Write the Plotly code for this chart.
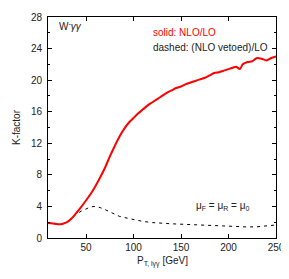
import plotly.graph_objects as go

# Solid: NLO/LO
pt_solid = [10, 15, 20, 25, 30, 35, 40, 45, 50, 55, 60, 65, 70, 75, 80, 85, 90, 95, 100,
            105, 110, 115, 120, 125, 130, 135, 140, 145, 150, 155, 160, 165, 170, 175,
            180, 185, 190, 195, 200, 205, 208, 212, 215, 220, 225, 230, 235, 240, 245, 250]
k_solid = [1.9, 1.85, 1.75, 1.78, 2.0, 2.5, 3.2, 3.95, 4.75, 5.6, 6.6, 7.7, 8.9, 10.3, 11.6,
           12.8, 13.8, 14.6, 15.2, 15.8, 16.3, 16.8, 17.2, 17.6, 18.0, 18.4, 18.7, 19.0,
           19.2, 19.5, 19.7, 19.9, 20.1, 20.3, 20.6, 20.9, 21.0, 21.2, 21.4, 21.6, 21.7,
           21.4, 22.0, 22.3, 22.4, 22.8, 22.7, 22.5, 22.8, 23.0]

# Dashed: (NLO vetoed)/LO
pt_dashed = [10, 20, 25, 30, 35, 40, 45, 50, 55, 60, 65, 70, 75, 80, 85, 90, 95, 100,
             110, 120, 130, 140, 150, 160, 170, 180, 190, 200, 210, 220, 230, 240, 250]
k_dashed = [1.9, 1.75, 1.8, 2.0, 2.5, 3.05, 3.4, 3.7, 3.95, 4.0, 3.85, 3.6, 3.3, 3.0, 2.75,
            2.6, 2.45, 2.35, 2.1, 1.95, 1.85, 1.8, 1.75, 1.7, 1.62, 1.55, 1.5, 1.45, 1.42,
            1.4, 1.42, 1.5, 1.65]

x_ticks = [50, 100, 150, 200, 250]
y_ticks = [0, 4, 8, 12, 16, 20, 24, 28]

FONT = "Liberation Sans, Arial, sans-serif"
TXT = "#222222"

fig = go.Figure()
fig.add_trace(go.Scatter(x=pt_dashed, y=k_dashed, mode="lines",
                         line=dict(color="black", width=1, dash="3px,4px"),
                         showlegend=False))
fig.add_trace(go.Scatter(x=pt_solid, y=k_solid, mode="lines", line_shape="spline",
                         line=dict(color="#ff0000", width=2, smoothing=0.6),
                         showlegend=False))

axis_common = dict(showline=True, linecolor="black", linewidth=1, mirror="allticks",
                   ticks="inside", ticklen=4, tickcolor="black", tickwidth=1,
                   showgrid=False, zeroline=False, ticklabeloverflow="allow",
                   tickfont=dict(family=FONT, size=10, color=TXT))

fig.update_xaxes(range=[10, 250], tickvals=x_ticks, **axis_common)
fig.update_yaxes(range=[0, 28], tickvals=y_ticks, ticklabelstandoff=3, **axis_common,
                 minor=dict(dtick=2, ticks="inside", ticklen=2, tickcolor="black"),
                 title=dict(text="K-factor", font=dict(family=FONT, size=10, color=TXT),
                            standoff=8))

ann_font = dict(family=FONT, size=10, color=TXT)
fig.add_annotation(x=0.5, y=-0.105, xref="paper", yref="paper", xanchor="center",
                   yanchor="middle", showarrow=False,
                   text="P<sub>T, lγγ</sub> [GeV]", font=ann_font)
fig.add_annotation(x=0.04, y=0.958, xref="paper", yref="paper", xanchor="left",
                   yanchor="middle", showarrow=False,
                   text="W<sup>-</sup><i>γγ</i>", font=ann_font)
fig.add_annotation(x=0.45, y=0.93, xref="paper", yref="paper", xanchor="left",
                   yanchor="middle", showarrow=False,
                   text="solid: NLO/LO", font=dict(family=FONT, size=10, color="#ff0000"))
fig.add_annotation(x=0.45, y=0.862, xref="paper", yref="paper", xanchor="left",
                   yanchor="middle", showarrow=False,
                   text="dashed: (NLO vetoed)/LO", font=ann_font)
fig.add_annotation(x=0.64, y=0.146, xref="paper", yref="paper", xanchor="left",
                   yanchor="middle", showarrow=False,
                   text="μ<sub>F</sub> = μ<sub>R</sub> = μ<sub>0</sub>", font=ann_font)

# page body has an 8px margin; figure sized to fit the 289x279 window
fig.update_layout(width=281, height=271, margin=dict(l=39.5, r=13, t=3, b=40.7),
                  paper_bgcolor="white", plot_bgcolor="white",
                  font=dict(family=FONT, size=10, color=TXT))

fig.write_html("out.html")
